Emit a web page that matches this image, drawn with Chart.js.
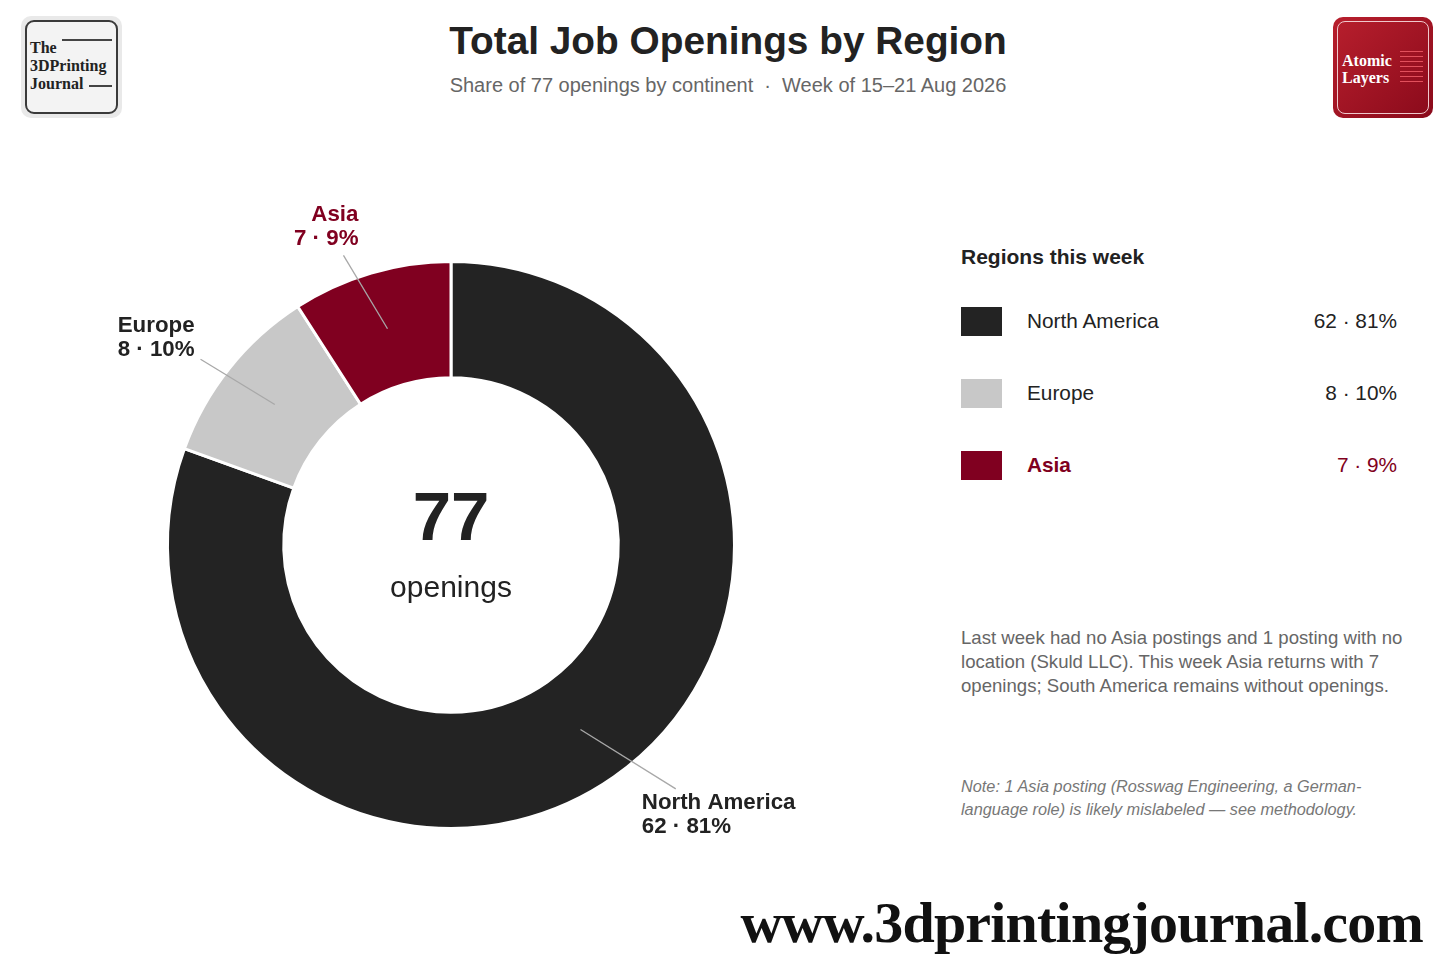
<!DOCTYPE html>
<html>
<head>
<meta charset="utf-8">
<script src="https://cdn.jsdelivr.net/npm/chart.js"></script>
<style>
  body {
    margin: 0;
    width: 1456px;
    height: 973px;
    background: #fff;
    font-family: "Liberation Sans", Arial, sans-serif;
    color: #222;
    position: relative;
    overflow: hidden;
  }
  .abs { position: absolute; }
  #title {
    left: 0; width: 1456px; top: 19px;
    text-align: center; font-size: 38.8px; font-weight: bold; color: #222;
  }
  #subtitle {
    left: 0; width: 1456px; top: 74px;
    text-align: center; font-size: 20px; color: #666;
  }
  #logo-left {
    left: 21px; top: 16px; width: 101px; height: 102px;
    background: #e9e9e9; border-radius: 10px;
  }
  #logo-left .inner {
    position: absolute; left: 4px; top: 4px; right: 4px; bottom: 4px;
    border: 2px solid #3a3a3a; border-radius: 9px; box-sizing: border-box;
    background: #f3f3f3;
    font-family: "Liberation Serif", "DejaVu Serif", serif; font-weight: bold;
    font-size: 16px; line-height: 18px; color: #222; padding: 17px 0 0 3px;
  }
  #logo-left .rule { position: absolute; height: 1.5px; background: #444; }
  #logo-right {
    left: 1333px; top: 17px; width: 100px; height: 101px;
    background: linear-gradient(135deg, #b81f2d, #8a0a1b);
    border-radius: 10px;
  }
  #logo-right .inner {
    position: absolute; left: 4px; top: 4px; right: 4px; bottom: 4px;
    border: 1.5px solid #f0c8cc; border-radius: 8px; box-sizing: border-box;
    font-family: "Liberation Serif", "DejaVu Serif", serif; font-weight: bold;
    font-size: 16px; line-height: 17px; color: #fff; padding: 30px 0 0 4px;
  }
  #logo-right .ln { position: absolute; left: 62px; width: 23px; height: 1.2px; background: #e2505c; }
  #chart-wrap { left: 51px; top: 195px; width: 800px; height: 700px; }
  #legend { left: 961px; top: 245px; width: 436px; }
  #legend h3 { margin: 0; font-size: 21px; font-weight: bold; color: #222; }
  .row { position: relative; height: 72px; }
  .sw { position: absolute; left: 0; width: 41px; height: 29px; }
  .nm { position: absolute; left: 66px; font-size: 20.8px; }
  .vl { position: absolute; right: 0; font-size: 20.8px; }
  #para {
    left: 961px; top: 626px; width: 470px;
    font-size: 18.6px; line-height: 24px; color: #666;
  }
  #note {
    left: 961px; top: 775px; width: 440px;
    font-size: 16.3px; line-height: 23px; color: #777; font-style: italic;
  }
  #site {
    right: 33px; top: 889px;
    font-family: "Liberation Serif", "DejaVu Serif", serif; font-weight: bold;
    font-size: 58px; color: #111; letter-spacing: -0.8px;
  }
</style>
</head>
<body>
<div id="logo-left" class="abs"><div class="inner">The<br>3DPrinting<br>Journal
  <div class="rule" style="left:35px;right:4px;top:17px"></div>
  <div class="rule" style="left:62px;right:4px;top:63px"></div>
</div></div>
<div id="logo-right" class="abs"><div class="inner">Atomic<br>Layers
  <div class="ln" style="top:29px"></div><div class="ln" style="top:34px"></div>
  <div class="ln" style="top:39px"></div><div class="ln" style="top:44px"></div>
  <div class="ln" style="top:49px"></div><div class="ln" style="top:54px"></div>
  <div class="ln" style="top:59px"></div>
</div></div>
<div id="title" class="abs">Total Job Openings by Region</div>
<div id="subtitle" class="abs">Share of 77 openings by continent &nbsp;·&nbsp; Week of 15–21 Aug 2026</div>

<div id="chart-wrap" class="abs"><canvas id="chart"></canvas></div>

<div id="legend" class="abs">
  <h3>Regions this week</h3>
  <div id="legend-rows" style="margin-top:38px"></div>
</div>

<div id="para" class="abs">Last week had no Asia postings and 1 posting with no location (Skuld LLC). This week Asia returns with 7 openings; South America remains without openings.</div>
<div id="note" class="abs">Note: 1 Asia posting (Rosswag Engineering, a German-language role) is likely mislabeled — see methodology.</div>
<div id="site" class="abs">www.3dprintingjournal.com</div>

<script>
const regions = ['North America', 'Europe', 'Asia'];
const openings = [62, 8, 7];
const shares = [81, 10, 9];
const colors = ['#232323', '#c8c8c8', '#800020'];
const labelColors = ['#222222', '#222222', '#800020'];
const total = 77;

// legend on the right
const rows = document.getElementById('legend-rows');
regions.forEach((r, i) => {
  const div = document.createElement('div');
  div.className = 'row';
  const isAsia = r === 'Asia';
  div.innerHTML =
    `<div class="sw" style="top:0;background:${colors[i]}"></div>` +
    `<div class="nm" style="top:2px;color:${labelColors[i]};font-weight:${isAsia ? 'bold' : 'normal'}">${r}</div>` +
    `<div class="vl" style="top:2px;color:${labelColors[i]}">${openings[i]} · ${shares[i]}%</div>`;
  rows.appendChild(div);
});

// where each outside label sits, relative to its slice
const labelLayout = [
  { dAngle: -7.6, rScale: 1.17, align: 'left', dx: -34, dy: 14 },   // North America
  { dAngle: -2.0, rScale: 1.10, align: 'right', dx: -6, dy: -33 },   // Europe
  { dAngle: -4.0, rScale: 1.09, align: 'right', dx: 15, dy: -40 }    // Asia
];

const outsideLabels = {
  id: 'outsideLabels',
  afterDraw(chart) {
    const ctx = chart.ctx;
    const arcs = chart.getDatasetMeta(0).data;
    arcs.forEach((arc, i) => {
      const mid = (arc.startAngle + arc.endAngle) / 2;
      const rMid = (arc.innerRadius + arc.outerRadius) / 2;
      const x0 = arc.x + Math.cos(mid) * rMid;
      const y0 = arc.y + Math.sin(mid) * rMid;
      const lay = labelLayout[i];
      const a2 = mid + lay.dAngle * Math.PI / 180;
      const r2 = arc.outerRadius * lay.rScale;
      const x1 = arc.x + Math.cos(a2) * r2;
      const y1 = arc.y + Math.sin(a2) * r2;
      ctx.save();
      ctx.strokeStyle = '#a8a8a8';
      ctx.lineWidth = 1.3;
      ctx.beginPath();
      ctx.moveTo(x0, y0);
      ctx.lineTo(x1, y1);
      ctx.stroke();
      ctx.fillStyle = labelColors[i];
      ctx.font = 'bold 22.3px "Liberation Sans", Arial, sans-serif';
      ctx.textAlign = lay.align;
      ctx.textBaseline = 'middle';
      const tx = x1 + lay.dx;
      const ty = y1 + lay.dy;
      ctx.fillText(regions[i], tx, ty);
      ctx.fillText(openings[i] + ' · ' + shares[i] + '%', tx, ty + 24);
      ctx.restore();
    });
    // centre total
    const a = arcs[0];
    ctx.save();
    ctx.textAlign = 'center';
    ctx.textBaseline = 'middle';
    ctx.fillStyle = '#222';
    ctx.font = 'bold 69px "Liberation Sans", Arial, sans-serif';
    ctx.fillText(String(total), a.x, a.y - 24);
    ctx.font = '30px "Liberation Sans", Arial, sans-serif';
    ctx.fillText('openings', a.x, a.y + 44);
    ctx.restore();
  }
};

new Chart(document.getElementById('chart'), {
  type: 'doughnut',
  data: {
    labels: regions,
    datasets: [{
      data: openings,
      backgroundColor: colors,
      borderColor: '#ffffff',
      borderWidth: 3,
      hoverOffset: 0
    }]
  },
  options: {
    responsive: true,
    maintainAspectRatio: false,
    animation: false,
    cutout: '59%',
    rotation: 0,
    layout: { padding: { top: 65, bottom: 65, left: 115, right: 115 } },
    plugins: {
      legend: { display: false },
      tooltip: { enabled: false }
    }
  },
  plugins: [outsideLabels]
});
</script>
</body>
</html>
